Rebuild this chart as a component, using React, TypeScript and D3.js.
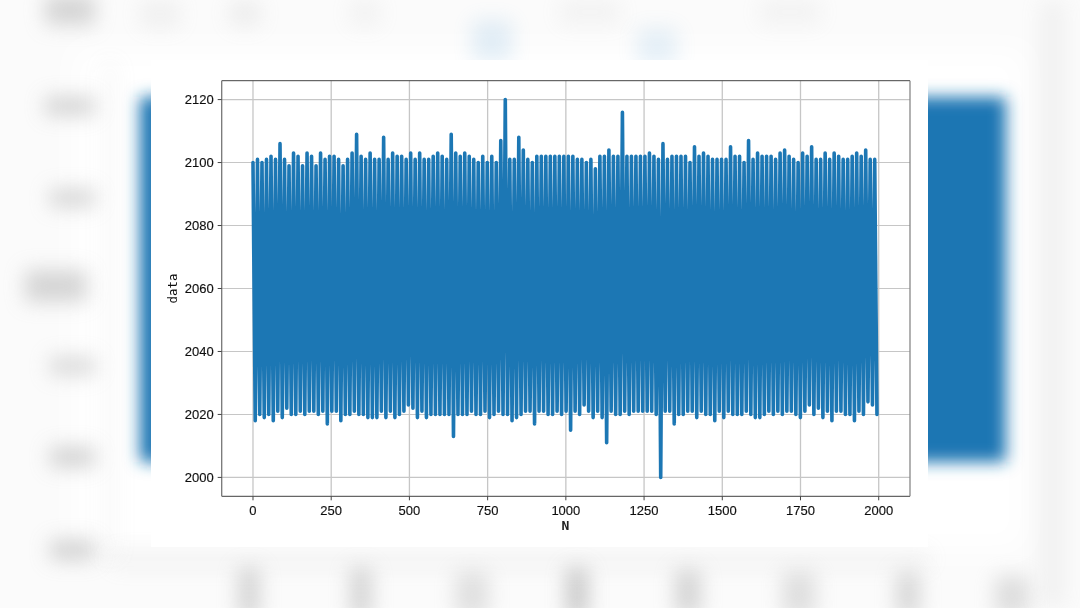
import React from "react";
import * as d3 from "d3";

const peaks = [
  2100,2101,2100,2101,2102,2101,2106,2101,2099,2103,
  2102,2099,2103,2102,2099,2103,2101,2102,2102,2101,
  2099,2101,2103,2109,2102,2101,2103,2101,2101,2108,
  2101,2103,2102,2102,2101,2103,2101,2103,2101,2101,
  2102,2103,2102,2101,2109,2103,2102,2103,2102,2101,
  2100,2102,2100,2102,2100,2107,2120,
  2101,2101,2108,2104,2101,2100,2102,2102,2102,2102,2102,2102,2102,2102,2102,2101,2101,2100,2101,2098,2102,2102,2104,2102,2102,
  2116,
  2102,2102,2102,2102,2102,2103,2102,2101,2106,2101,
  2102,2102,2102,2102,2100,2105,2102,2103,2102,2101,
  2101,2101,2101,2105,2102,2102,2100,2107,2101,2103,
  2102,2102,2102,2101,2103,2104,2102,2101,2100,2103,
  2102,2105,2101,2101,2103,2101,2103,2102,2101,2101,
  2102,2103,2102,2104,2101,2101,
];
const troughs = [
  2018,2020,2019,2020,2018,2021,2019,2022,2020,2020,
  2021,2020,2021,2021,2020,2021,2017,2021,2021,2018,
  2020,2020,2021,2020,2020,2019,2019,2019,2021,2019,
  2021,2019,2020,2021,2023,2022,2019,2021,2019,2020,
  2020,2020,2020,2020,2013,
  2020,2020,2020,2021,2020,2020,2021,2019,2020,2021,
  2020,2020,2018,2019,2020,2021,2021,2017,2021,2021,
  2020,2020,2021,2020,2021,2015,2021,2020,2023,2021,
  2019,2021,2019,2011,2021,2020,2020,2021,2020,2021,
  2021,2021,2021,2021,2020,2000,
  2021,2021,2017,2020,2020,2021,2021,2019,2021,2020,
  2020,2018,2021,2019,2021,2020,2020,2020,2021,2020,
  2019,2019,2020,2021,2020,2021,2020,2021,2021,2020,
  2019,2021,2023,2020,2022,2019,2021,2018,2021,2021,
  2020,2020,2018,2021,2020,2024,2023,2020,
];
const cycleLength = 14.4;
const xTicks = [0,250,500,750,1000,1250,1500,1750,2000];
const yTicks = [2000,2020,2040,2060,2080,2100,2120];
const xDomain = [-100,2100];
const yDomain = [1994,2126];
const xLabel = "N";
const yLabel = "data";
const grayBlobs: number[][] = [
  [45,-5,50,30,0.55],[45,97,50,18,0.6],[50,189,45,18,0.55],[25,270,62,32,0.55],[50,357,45,18,0.5],[50,447,45,20,0.6],[50,540,45,20,0.6],
  [238,568,22,50,0.55],[350,568,22,50,0.55],[455,572,34,45,0.38],[566,568,22,50,0.7],[675,570,26,45,0.55],[782,572,34,45,0.4],[896,572,24,45,0.5],[995,576,34,40,0.42],
  [140,0,40,28,0.15],[230,0,30,26,0.2],[350,0,30,26,0.12],[560,0,60,24,0.12],[760,0,60,24,0.12],[1040,0,25,608,0.14],[100,60,20,500,0.06],[110,550,820,18,0.12],
];
const blueBlobs: number[][] = [[472,20,40,42,0.16],[637,28,40,38,0.14]];

const BLUE = "#1f77b4";
const FONT = "'Liberation Sans', sans-serif";
const MONO = "'DejaVu Sans Mono', monospace";

export default function App() {
  const left = 221.7, right = 910, top = 80.7, bottom = 496.3;
  const x = d3.scaleLinear().domain(xDomain).range([left, right]);
  const y = d3.scaleLinear().domain(yDomain).range([bottom, top]);
  const pts: [number, number][] = [];
  peaks.forEach((p, i) => {
    pts.push([i * cycleLength, p]);
    if (i < troughs.length) pts.push([(i + 0.5) * cycleLength, troughs[i]]);
  });
  const path = d3.line<[number, number]>().x(d => x(d[0])).y(d => y(d[1])).curve(d3.curveLinear)(pts) || "";
  return (
    <svg width={1080} height={608} style={{ position: "fixed", left: 0, top: 0, background: "#fbfbfb" }}>
      <defs>
        <filter id="b9" x="-150%" y="-150%" width="400%" height="400%"><feGaussianBlur stdDeviation="10" /></filter>
        <filter id="b7" x="-50%" y="-50%" width="200%" height="200%"><feGaussianBlur stdDeviation="8" /></filter>
        <filter id="b25" x="-20%" y="-20%" width="140%" height="140%"><feGaussianBlur stdDeviation="14" /></filter>
        <filter id="soft" x="-2%" y="-2%" width="104%" height="104%"><feGaussianBlur stdDeviation="0.38" /></filter>
      </defs>
      <rect x={75} y={50} width={950} height={500} fill="#fff" filter="url(#b25)" />
      {grayBlobs.map((b, i) => (
        <rect key={i} x={b[0]} y={b[1]} width={b[2]} height={b[3]} fill="#b5b5b5" opacity={b[4]} filter="url(#b9)" />
      ))}
      {blueBlobs.map((b, i) => (
        <rect key={i} x={b[0]} y={b[1]} width={b[2]} height={b[3]} fill="#5ba3d6" opacity={b[4]} filter="url(#b9)" />
      ))}
      <rect x={140} y={97} width={866} height={365} fill="#1a76b3" filter="url(#b7)" />
      <rect x={151} y={60} width={777} height={487} fill="#fff" />
      <g filter="url(#soft)">
        <g stroke="#c6c6c6">
          {xTicks.map(t => <line key={t} x1={x(t)} x2={x(t)} y1={top} y2={bottom} strokeWidth={1.3} />)}
          {yTicks.map(t => <line key={t} x1={left} x2={right} y1={y(t)} y2={y(t)} strokeWidth={1.1} />)}
        </g>
        <path d={path} fill="none" stroke={BLUE} strokeWidth={3.6} strokeLinejoin="round" strokeLinecap="round" />
        <line x1={left} x2={right} y1={top} y2={top} stroke="#444" strokeWidth={1} />
        <line x1={left} x2={right} y1={bottom} y2={bottom} stroke="#666" strokeWidth={1.2} />
        <line x1={left} x2={left} y1={top} y2={bottom} stroke="#777" strokeWidth={1.3} />
        <line x1={right} x2={right} y1={top} y2={bottom} stroke="#888" strokeWidth={1.3} />
        {xTicks.map(t => (
          <g key={t}>
            <line x1={x(t)} x2={x(t)} y1={bottom} y2={bottom + 4} stroke="#444" />
            <text x={x(t)} y={bottom + 19} textAnchor="middle" fontFamily={FONT} fontSize={13} fill="#111" stroke="#111" strokeWidth={0.15}>{t}</text>
          </g>
        ))}
        {yTicks.map(t => (
          <g key={t}>
            <line x1={left - 4} x2={left} y1={y(t)} y2={y(t)} stroke="#444" />
            <text x={left - 8} y={y(t) + 4.7} textAnchor="end" fontFamily={FONT} fontSize={13} fill="#111" stroke="#111" strokeWidth={0.15}>{t}</text>
          </g>
        ))}
        <text x={565.5} y={530} textAnchor="middle" fontFamily={MONO} fontSize={13} fontWeight="bold" fill="#222">{xLabel}</text>
        <text transform={`translate(177,288.5) rotate(-90)`} textAnchor="middle" fontFamily={MONO} fontSize={12.4} fill="#111">{yLabel}</text>
      </g>
    </svg>
  );
}
